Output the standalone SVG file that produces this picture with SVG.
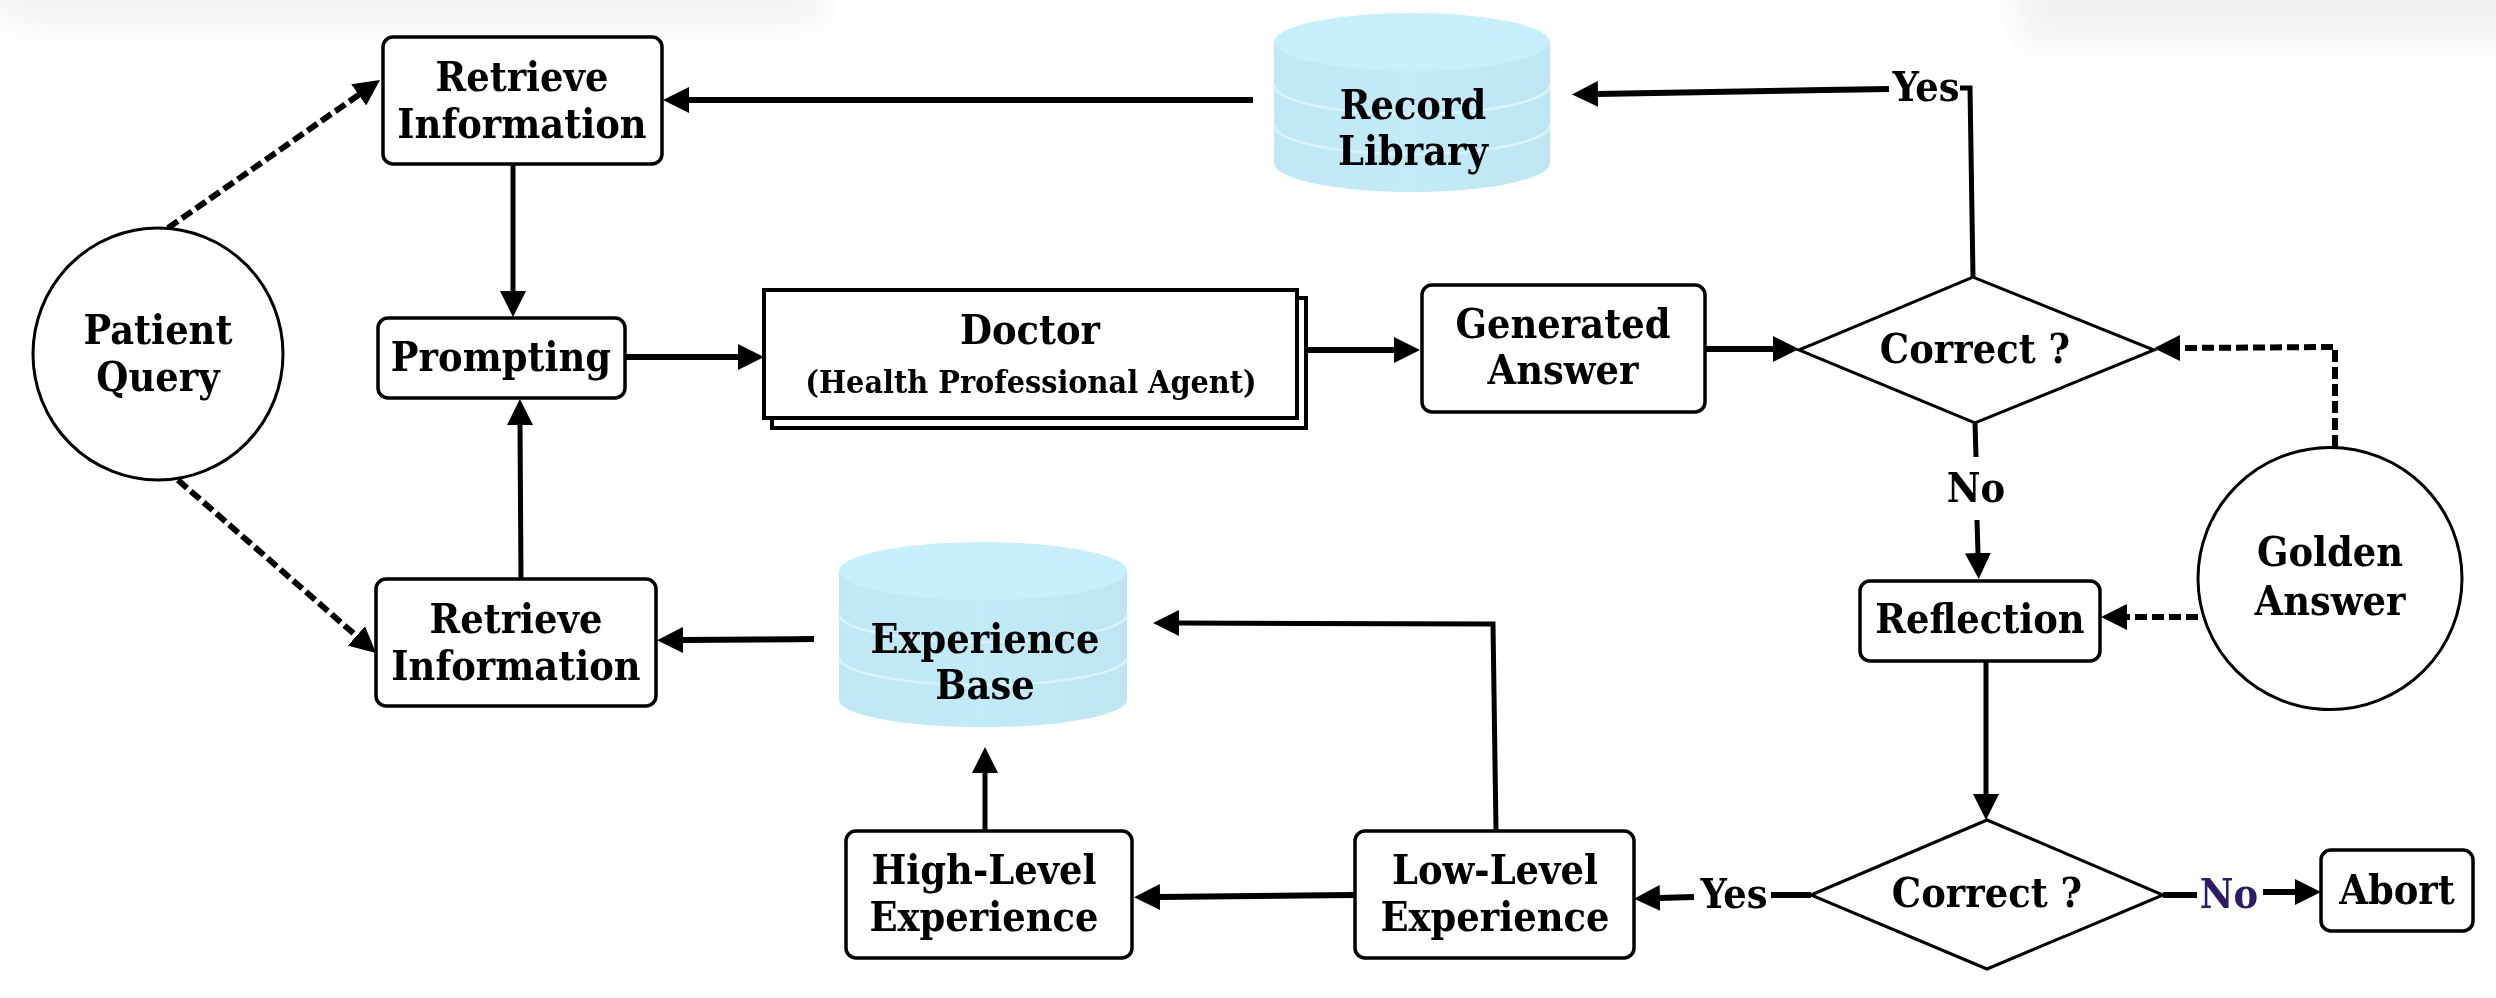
<svg xmlns="http://www.w3.org/2000/svg" width="2496" height="998" viewBox="0 0 2496 998">
<defs>
<style>
.box{fill:#fff;stroke:#000;stroke-width:3.5}
.shape{fill:#fff;stroke:#000;stroke-width:3}
.t{font-family:'DejaVu Serif Condensed','DejaVu Serif',serif;font-stretch:condensed;font-weight:bold;font-size:41px;fill:#000;text-anchor:middle}
.ts{font-size:32px}
.ln{fill:none;stroke:#000;stroke-width:6}
.lv{fill:none;stroke:#000;stroke-width:5}
.dash{fill:none;stroke:#000;stroke-width:6;stroke-dasharray:12 5}
.cylbody{fill:url(#cylg)}
.cyltop{fill:#c8f0fc}
.band{fill:none;stroke:#d8f5fd;stroke-width:2.5}
</style>
<linearGradient id="cylg" x1="0" y1="0" x2="1" y2="0">
<stop offset="0" stop-color="#bfe7f4"/>
<stop offset="0.5" stop-color="#c2ebf8"/>
<stop offset="1" stop-color="#bde5f2"/>
</linearGradient>
<marker id="ah" viewBox="0 0 26 26" markerWidth="26" markerHeight="26" refX="1" refY="13" orient="auto" markerUnits="userSpaceOnUse">
<path d="M0,0 L26,13 L0,26 z" fill="#000"/>
</marker>
<filter id="blur" x="-20%" y="-200%" width="140%" height="500%"><feGaussianBlur stdDeviation="18"/></filter>
</defs>
<rect width="2496" height="998" fill="#fff"/>
<g id="haze" opacity="0.6">
<rect x="0" y="-40" width="820" height="60" fill="#e6e6e6" filter="url(#blur)"/>
<rect x="2020" y="-40" width="520" height="80" fill="#e6e6e6" filter="url(#blur)"/>
</g>

<g id="connectors">
<line class="dash" x1="168" y1="228" x2="359.5" y2="94.3" marker-end="url(#ah)"/>
<line class="dash" x1="178" y1="480" x2="357.2" y2="636.6" marker-end="url(#ah)"/>
<line class="lv" x1="513" y1="164" x2="513" y2="292" marker-end="url(#ah)"/>
<line class="lv" x1="521" y1="579" x2="520" y2="424" marker-end="url(#ah)"/>
<line class="ln" x1="625" y1="357" x2="739" y2="357" marker-end="url(#ah)"/>
<line class="ln" x1="1253" y1="100" x2="688" y2="100" marker-end="url(#ah)"/>
<line class="ln" x1="1307" y1="350" x2="1395" y2="350" marker-end="url(#ah)"/>
<line class="ln" x1="1705" y1="349" x2="1774" y2="349" marker-end="url(#ah)"/>
<polyline class="lv" points="1973,277 1970,88 1960,88"/>
<line class="ln" x1="1889" y1="89" x2="1597" y2="94" marker-end="url(#ah)"/>
<line class="lv" x1="1975" y1="423" x2="1976" y2="457"/>
<line class="lv" x1="1977" y1="520" x2="1978" y2="554" marker-end="url(#ah)"/>
<polyline class="dash" points="2335,447 2335,347 2179,348" marker-end="url(#ah)"/>
<line class="dash" x1="2198" y1="617" x2="2126" y2="617" marker-end="url(#ah)"/>
<line class="lv" x1="1986" y1="661" x2="1986" y2="795" marker-end="url(#ah)"/>
<line class="ln" x1="1811" y1="895" x2="1771" y2="895"/>
<line class="ln" x1="1694" y1="897" x2="1659" y2="898" marker-end="url(#ah)"/>
<line class="ln" x1="2163" y1="895" x2="2197" y2="895"/>
<line class="ln" x1="2263" y1="892" x2="2296" y2="892" marker-end="url(#ah)"/>
<line class="ln" x1="1355" y1="895" x2="1159" y2="897" marker-end="url(#ah)"/>
<polyline class="lv" points="1496,831 1493,624 1178,623" marker-end="url(#ah)"/>
<line class="lv" x1="985" y1="831" x2="985" y2="772" marker-end="url(#ah)"/>
<line class="ln" x1="814" y1="639" x2="682" y2="640" marker-end="url(#ah)"/>
<text class="t" x="1926" y="101">Yes</text>
<text class="t" x="1976" y="502">No</text>
<text class="t" x="1734" y="908">Yes</text>
<text class="t" x="2229" y="908" style="fill:#2d1b69">No</text>
</g>

<g id="patient-query">
<ellipse class="shape" cx="158" cy="354" rx="125" ry="126"/>
<text class="t" x="158" y="344">Patient</text>
<text class="t" x="158" y="391">Query</text>
</g>

<g id="retrieve-top">
<rect class="box" x="383" y="37" width="279" height="127" rx="10"/>
<text class="t" x="522" y="91">Retrieve</text>
<text class="t" x="522" y="138">Information</text>
</g>

<g id="prompting">
<rect class="box" x="378" y="318" width="247" height="80" rx="10"/>
<text class="t" x="501" y="371">Prompting</text>
</g>

<g id="retrieve-bottom">
<rect class="box" x="376" y="579" width="280" height="127" rx="10"/>
<text class="t" x="516" y="633">Retrieve</text>
<text class="t" x="516" y="680">Information</text>
</g>

<g id="doctor">
<rect x="772" y="298" width="534" height="130" fill="#fff" stroke="#000" stroke-width="4"/>
<rect x="764" y="290" width="533" height="128" fill="#fff" stroke="#000" stroke-width="4"/>
<text class="t" x="1030" y="344">Doctor</text>
<text class="t ts" x="1031" y="393">(Health Professional Agent)</text>
</g>

<g id="record-library">
<path class="cylbody" d="M1274,42 L1274,163 A138,29 0 0 0 1550,163 L1550,42 Z"/>
<path class="band" d="M1274,85 A138,29 0 0 0 1550,85"/>
<path class="band" d="M1274,125 A138,29 0 0 0 1550,125"/>
<ellipse class="cyltop" cx="1412" cy="42" rx="138" ry="29"/>
<text class="t" x="1413" y="119">Record</text>
<text class="t" x="1413" y="165">Library</text>
</g>

<g id="generated-answer">
<rect class="box" x="1422" y="285" width="283" height="127" rx="10"/>
<text class="t" x="1563" y="338">Generated</text>
<text class="t" x="1563" y="384">Answer</text>
</g>

<g id="correct-1">
<polygon class="shape" points="1799,350 1973,277 2154,350 1975,423"/>
<text class="t" x="1975" y="363">Correct ?</text>
</g>

<g id="golden-answer">
<ellipse class="shape" cx="2330" cy="578.5" rx="132" ry="131"/>
<text class="t" x="2330" y="566">Golden</text>
<text class="t" x="2330" y="615">Answer</text>
</g>

<g id="reflection">
<rect class="box" x="1860" y="581" width="240" height="80" rx="10"/>
<text class="t" x="1980" y="633">Reflection</text>
</g>

<g id="correct-2">
<polygon class="shape" points="1811,895 1987,820 2163,895 1987,969"/>
<text class="t" x="1987" y="907">Correct ?</text>
</g>

<g id="abort">
<rect class="box" x="2321" y="850" width="152" height="81" rx="10"/>
<text class="t" x="2397" y="904">Abort</text>
</g>

<g id="low-level">
<rect class="box" x="1355" y="831" width="279" height="127" rx="10"/>
<text class="t" x="1495" y="884">Low-Level</text>
<text class="t" x="1495" y="931">Experience</text>
</g>

<g id="high-level">
<rect class="box" x="846" y="831" width="286" height="127" rx="10"/>
<text class="t" x="984" y="884">High-Level</text>
<text class="t" x="984" y="931">Experience</text>
</g>

<g id="experience-base">
<path class="cylbody" d="M839,571 L839,700 A144,27 0 0 0 1127,700 L1127,571 Z"/>
<path class="band" d="M839,614 A144,28 0 0 0 1127,614"/>
<path class="band" d="M839,657 A144,28 0 0 0 1127,657"/>
<ellipse class="cyltop" cx="983" cy="571" rx="144" ry="29"/>
<text class="t" x="985" y="653">Experience</text>
<text class="t" x="985" y="699">Base</text>
</g>
</svg>
